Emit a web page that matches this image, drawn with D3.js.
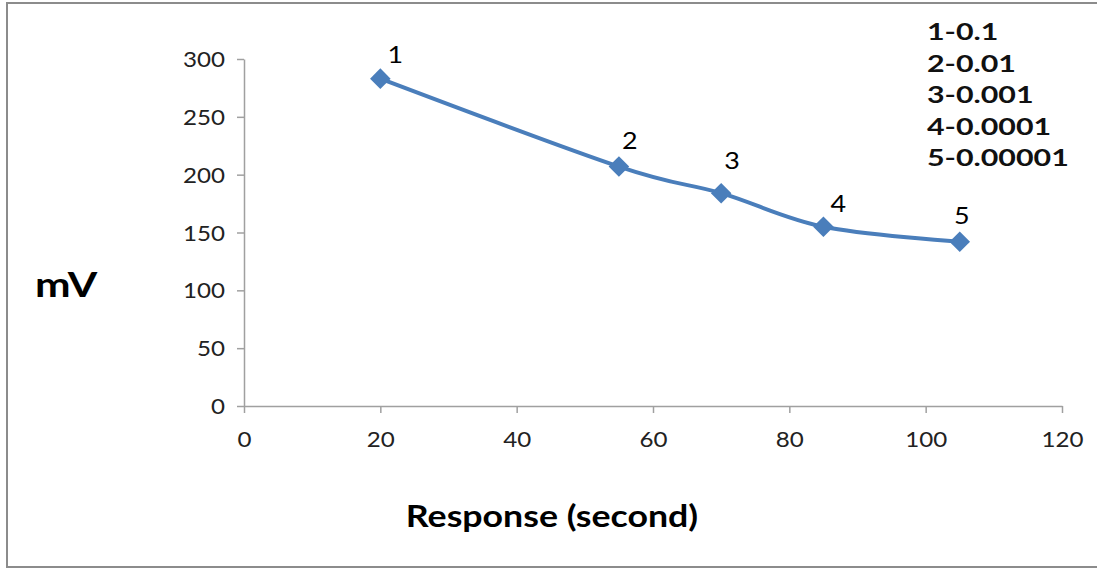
<!DOCTYPE html>
<html>
<head>
<meta charset="UTF-8">
<title>mV vs Response</title>
<script src="https://cdnjs.cloudflare.com/ajax/libs/d3/7.8.5/d3.min.js"></script>
<style>
  body { margin: 0; background: #fff; }
  text { font-family: Lato, "Open Sans", sans-serif; }
</style>
</head>
<body>
<svg id="chart" width="1097" height="569"></svg>
<script>
// data
var pointLabels = ["1", "2", "3", "4", "5"];
var responseSec = [20, 55, 70, 85, 105];
var millivolts = [283, 207, 184, 155, 142];
var legendLines = ["1-0.1", "2-0.01", "3-0.001", "4-0.0001", "5-0.00001"];
var xTicks = [0, 20, 40, 60, 80, 100, 120];
var yTicks = [0, 50, 100, 150, 200, 250, 300];

// label nudges (px), like the hand-placed labels in the original
var labelDx = [15, 11, 11, 15, 2];
var labelDy = [-24, -26, -33, -23, -26];

// the original picture is a bit stretched sideways, so text is too
var stretch = 1.12;

var svg = d3.select("#chart");

svg.append("rect")
    .attr("x", 7).attr("y", 3)
    .attr("width", 1100).attr("height", 564)
    .attr("fill", "#fff").attr("stroke", "#8c8c8c").attr("stroke-width", 2);

var x = d3.scaleLinear().domain([0, 120]).range([244, 1062]);
var y = d3.scaleLinear().domain([0, 300]).range([406, 59]);

var axisColor = "#a0a0a0";

var xAxis = svg.append("g")
    .attr("transform", "translate(0," + y(0) + ")")
    .call(d3.axisBottom(x).tickValues(xTicks).tickSize(7).tickSizeOuter(0));
var yAxis = svg.append("g")
    .attr("transform", "translate(" + x(0) + ",0)")
    .call(d3.axisLeft(y).tickValues(yTicks).tickSize(7).tickSizeOuter(0));

[xAxis, yAxis].forEach(function (g) {
  g.select(".domain").attr("stroke", axisColor).attr("stroke-width", 1.5);
  g.selectAll(".tick line").attr("stroke", axisColor).attr("stroke-width", 1.5);
  g.selectAll(".tick text")
      .attr("fill", "#222")
      .style("font-family", "Lato, 'Open Sans', sans-serif")
      .style("font-size", "21px");
});
xAxis.selectAll(".tick text")
    .attr("y", 0).attr("dy", 0)
    .attr("transform", "translate(0,41) scale(1.15,1)");
yAxis.selectAll(".tick text")
    .attr("x", 0).attr("dy", "0.36em")
    .attr("transform", "translate(-19,0) scale(1.15,1)");

var pts = responseSec.map(function (d, i) {
  return { x: d, y: millivolts[i], label: pointLabels[i], dx: labelDx[i], dy: labelDy[i] };
});

var line = d3.line()
    .x(function (d) { return x(d.x); })
    .y(function (d) { return y(d.y); })
    .curve(d3.curveCatmullRom.alpha(0));

svg.append("path")
    .datum(pts)
    .attr("d", line)
    .attr("fill", "none")
    .attr("stroke", "#4a7ebb")
    .attr("stroke-width", 4);

var diamond = d3.symbol().type(d3.symbolDiamond2).size(270);
svg.selectAll(".marker")
    .data(pts)
    .join("path")
    .attr("class", "marker")
    .attr("d", diamond)
    .attr("transform", function (d) { return "translate(" + x(d.x) + "," + y(d.y) + ")"; })
    .attr("fill", "#4a7ebb");

svg.selectAll(".plabel")
    .data(pts)
    .join("text")
    .attr("class", "plabel")
    .attr("text-anchor", "middle")
    .attr("dy", "0.36em")
    .attr("transform", function (d) {
      return "translate(" + (x(d.x) + d.dx) + "," + (y(d.y) + d.dy) + ") scale(" + stretch + ",1)";
    })
    .attr("font-size", 24)
    .attr("fill", "#000")
    .text(function (d) { return d.label; });

svg.selectAll(".note")
    .data(legendLines)
    .join("text")
    .attr("class", "note")
    .attr("transform", function (d, i) { return "translate(927," + (40 + i * 31.5) + ") scale(1.38,1)"; })
    .attr("font-size", 22)
    .attr("font-weight", "bold")
    .attr("fill", "#111")
    .text(function (d) { return d; });

svg.append("text")
    .attr("transform", "translate(35,297) scale(1.25,1)")
    .attr("font-size", 34)
    .attr("font-weight", "bold")
    .text("mV");

svg.append("text")
    .attr("transform", "translate(552,527) scale(1.19,1)")
    .attr("text-anchor", "middle")
    .attr("font-size", 30)
    .attr("font-weight", "bold")
    .text("Response (second)");
</script>
</body>
</html>
